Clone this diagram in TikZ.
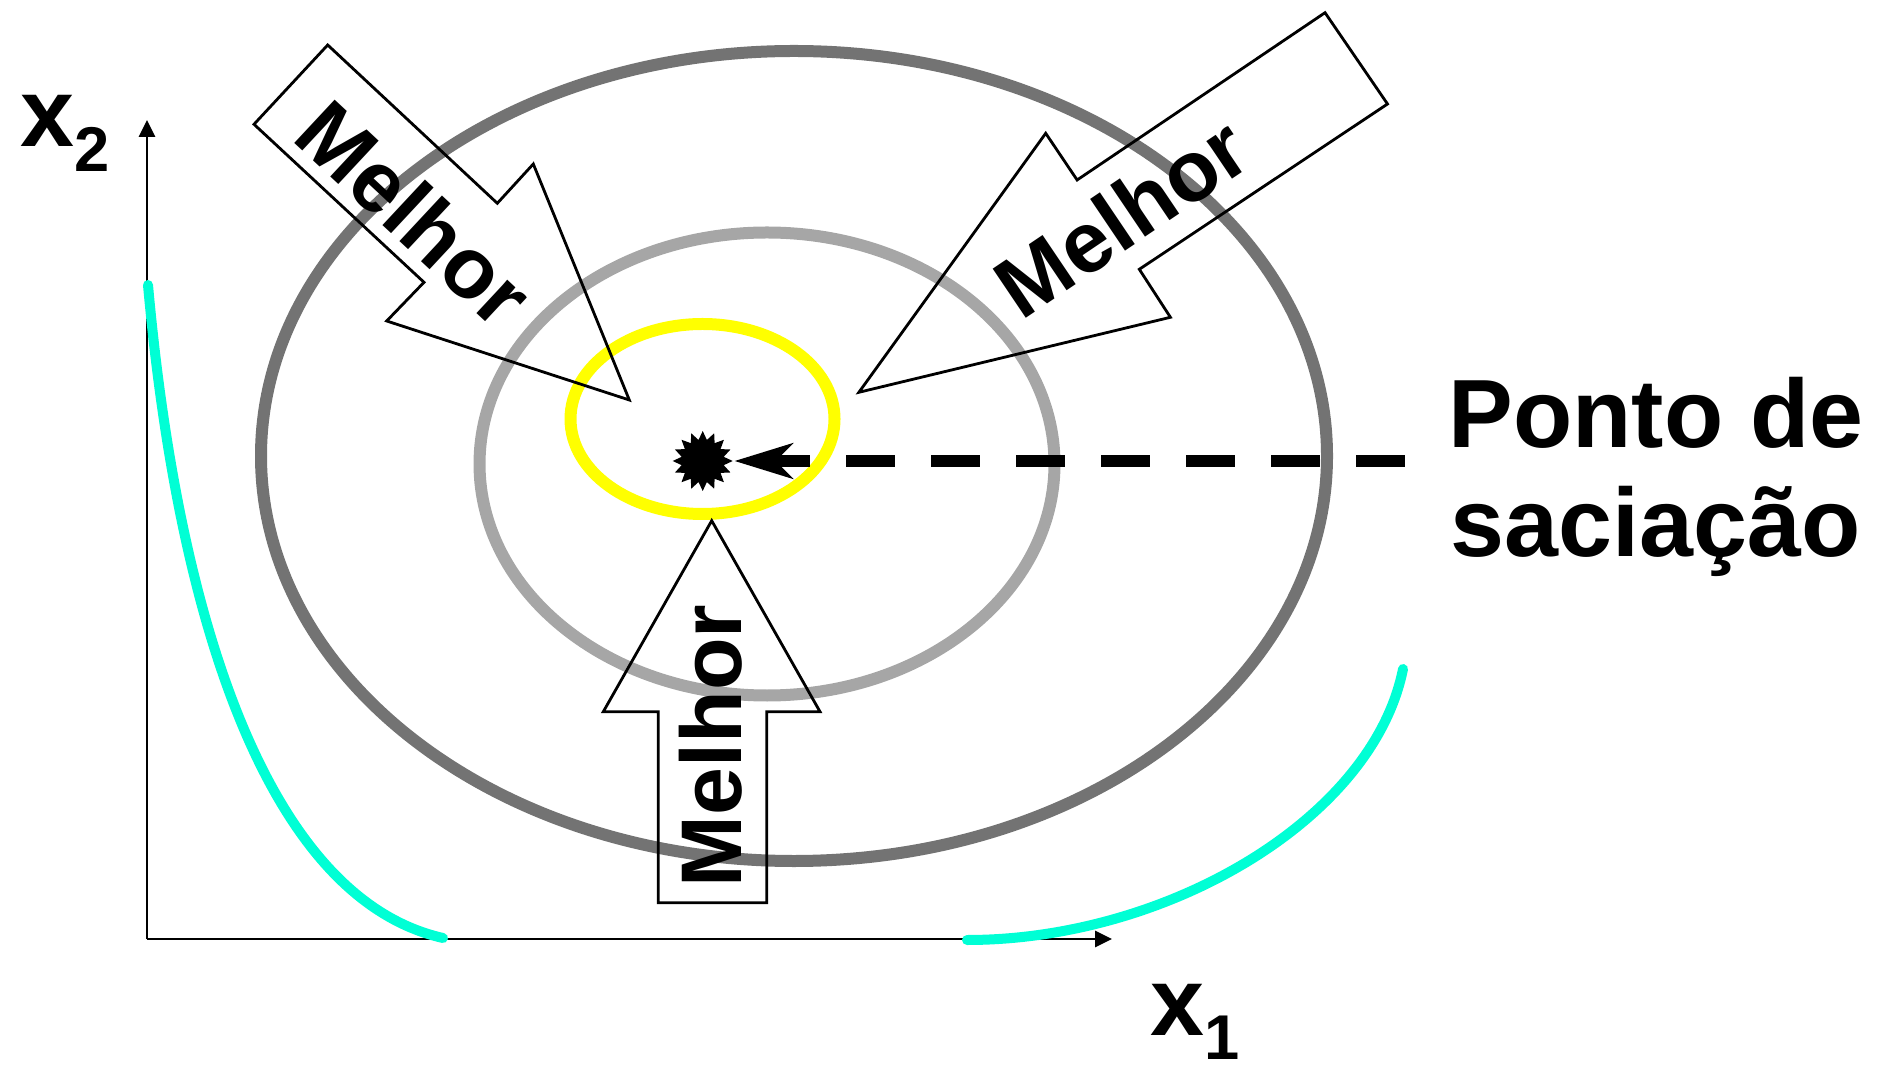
\documentclass[tikz,border=0pt]{standalone}
\usepackage{fontspec}
\setmainfont{Liberation Sans}
\usepackage{xcolor}
\definecolor{cinza45}{RGB}{115,115,115}
\definecolor{cinza65}{RGB}{166,166,166}
\definecolor{amarelo}{RGB}{255,255,0}
\definecolor{turquesa}{RGB}{0,255,213}
\usepackage{tikz}
\usetikzlibrary{arrows.meta,shapes.geometric}

\begin{document}
\begin{tikzpicture}[
        nivel/.style={line width=0.12cm},
        indif/.style={line width=0.1cm, line cap=round, turquesa},
        eixo/.style={line width=0.028cm, -{Triangle[length=0.17cm, width=0.16cm]}},
        bloco/.style={draw, line width=0.028cm, line join=miter},
        rotulo/.style={font=\bfseries\fontsize{24.5}{29}\selectfont, inner sep=0},
        grande/.style={font=\bfseries\fontsize{27.6}{31}\selectfont, inner sep=0, anchor=base west},
        saciedade/.style={line width=0.12cm, dash pattern=on 0.485cm off 0.365cm,
            -{Stealth[length=0.58cm, width=0.35cm, inset=0.17cm]}}
    ]
        \useasboundingbox (0,0) rectangle (18.86,10.68);
        % curvas de nivel
        \draw[nivel, cinza45] (7.94,6.12) ellipse [x radius=5.33cm, y radius=4.05cm];
        \draw[nivel, cinza65] (7.67,6.04) ellipse [x radius=2.875cm, y radius=2.315cm];
        \draw[nivel, amarelo] (7.025,6.49) ellipse [x radius=1.32cm, y radius=0.95cm];
        % eixos
        \coordinate (origem) at (1.47,1.29);
        \coordinate (topo) at (1.47,9.48);
        \coordinate (fimx) at (11.12,1.29);
        \draw[eixo] (origem) -- (topo);
        \draw[eixo] (origem) -- (fimx);
        \node (lx2) [grande] at (0.20,9.213) {x\raisebox{-0.25cm}{\fontsize{18}{18}\selectfont 2}};
        \node (lx1) [grande] at (11.50,0.33) {x\raisebox{-0.24cm}{\fontsize{18}{18}\selectfont 1}};
        % curvas de indiferenca
        \draw[indif] (1.48,7.83) .. controls (1.80,4.28) and (2.75,1.68) .. (4.43,1.30);
        \draw[indif] (9.67,1.28) .. controls (11.67,1.28) and (13.73,2.49) .. (14.03,3.99);
        % setas "melhor"
        \draw[bloco] (3.277,10.23) -- (4.973,8.647) -- (5.333,9.04) -- (6.293,6.68)
            -- (3.867,7.47) -- (4.24,7.857) -- (2.54,9.437) -- cycle;
        \draw[bloco] (13.25,10.553) -- (13.875,9.64) -- (11.393,7.987) -- (11.704,7.507)
            -- (8.589,6.757) -- (10.457,9.347) -- (10.771,8.88) -- cycle;
        \draw[bloco] (7.117,5.473) -- (8.20,3.563) -- (7.667,3.563) -- (7.667,1.653)
            -- (6.583,1.653) -- (6.583,3.563) -- (6.033,3.563) -- cycle;
        \node (mesq) [rotulo, rotate=-43] at (4.15,8.547) {Melhor};
        \node (mdir) [rotulo, rotate=34] at (11.214,8.513) {Melhor};
        \node (mbaixo) [rotulo, rotate=90] at (7.107,3.22) {Melhor};
        % ponto de saciacao
        \node (sat) [star, star points=16, star point ratio=1.4, fill, minimum size=0.6cm, inner sep=0] at (7.027,6.07) {};
        \coordinate (fimtrac) at (14.045,6.07);
        \draw[saciedade] (fimtrac) -- (sat);
        \node (ponto) [grande] at (14.48,6.20) {Ponto de};
        \node (saciacao) [grande] at (14.50,5.11) {saciação};
    \end{tikzpicture}
\end{document}
